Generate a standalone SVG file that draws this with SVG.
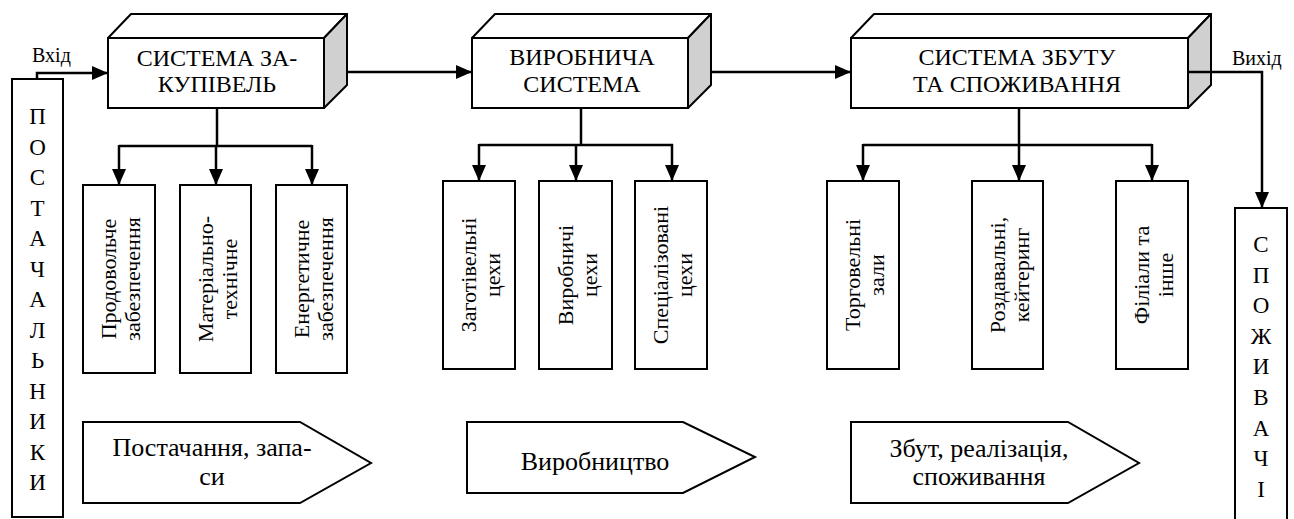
<svg xmlns="http://www.w3.org/2000/svg" width="1294" height="519" viewBox="0 0 1294 519">
<style>
text{font-family:'Liberation Serif','Times New Roman',serif;fill:#000}
.front{fill:#fff;stroke:#000;stroke-width:2}
.top{fill:#fff;stroke:#000;stroke-width:2;stroke-linejoin:round}
.side{fill:#d0d0d0;stroke:#000;stroke-width:2;stroke-linejoin:round}
.box{fill:#fff;stroke:#000;stroke-width:2}
.title{font-size:24px;text-anchor:middle}
.vt{font-size:22px;text-anchor:middle}
.letters{font-size:23px;text-anchor:middle}
.pent{font-size:26px;text-anchor:middle}
.lbl{font-size:20px}
.con{fill:none;stroke:#000;stroke-width:2.5}
</style>
<defs>
<marker id="arr" markerUnits="userSpaceOnUse" markerWidth="16" markerHeight="14" refX="16" refY="7" orient="auto">
<path d="M0,0 L16,7 L0,14 z" fill="#000"/>
</marker>
</defs>

<g id="suppliers">
<rect class="box" x="12" y="79" width="51" height="438"/>
<text class="letters"><tspan x="37.5" y="124">П</tspan><tspan x="37.5" y="154.5">О</tspan><tspan x="37.5" y="185">С</tspan><tspan x="37.5" y="215.5">Т</tspan><tspan x="37.5" y="246">А</tspan><tspan x="37.5" y="276.5">Ч</tspan><tspan x="37.5" y="307">А</tspan><tspan x="37.5" y="337.5">Л</tspan><tspan x="37.5" y="368">Ь</tspan><tspan x="37.5" y="398.5">Н</tspan><tspan x="37.5" y="429">И</tspan><tspan x="37.5" y="459.5">К</tspan><tspan x="37.5" y="490">И</tspan></text>
</g>

<g id="consumers">
<rect class="box" x="1235" y="208" width="52" height="330"/>
<text class="letters"><tspan x="1261" y="252">С</tspan><tspan x="1261" y="282.6">П</tspan><tspan x="1261" y="313.2">О</tspan><tspan x="1261" y="343.8">Ж</tspan><tspan x="1261" y="374.4">И</tspan><tspan x="1261" y="405">В</tspan><tspan x="1261" y="435.6">А</tspan><tspan x="1261" y="466.2">Ч</tspan><tspan x="1261" y="496.8">І</tspan></text>
</g>

<g id="sys-purchase">
<polygon class="top" points="108,38 131,14 347,14 324,38"/>
<polygon class="side" points="324,38 347,14 347,85 324,108"/>
<rect class="front" x="108" y="38" width="216" height="70"/>
<text class="title"><tspan x="217" y="66">СИСТЕМА ЗА-</tspan><tspan x="217" y="92">КУПІВЕЛЬ</tspan></text>
</g>

<g id="sys-production">
<polygon class="top" points="472,38 495,14 711,14 688,38"/>
<polygon class="side" points="688,38 711,14 711,85 688,108"/>
<rect class="front" x="472" y="38" width="216" height="70"/>
<text class="title"><tspan x="582" y="65">ВИРОБНИЧА</tspan><tspan x="582" y="92">СИСТЕМА</tspan></text>
</g>

<g id="sys-sales">
<polygon class="top" points="851,38 874,14 1211,14 1188,38"/>
<polygon class="side" points="1188,38 1211,14 1211,85 1188,108"/>
<rect class="front" x="851" y="38" width="337" height="70"/>
<text class="title"><tspan x="1017" y="65">СИСТЕМА ЗБУТУ</tspan><tspan x="1017" y="92">ТА СПОЖИВАННЯ</tspan></text>
</g>

<g id="food-supply">
<rect class="box" x="83" y="185" width="72" height="188"/>
<text class="vt" transform="translate(119,279) rotate(-90)"><tspan x="0" y="-3">Продовольче</tspan><tspan x="0" y="21">забезпечення</tspan></text>
</g>
<g id="material-supply">
<rect class="box" x="180" y="185" width="71" height="188"/>
<text class="vt" transform="translate(215.5,279) rotate(-90)"><tspan x="0" y="-3">Матеріально-</tspan><tspan x="0" y="21">технічне</tspan></text>
</g>
<g id="energy-supply">
<rect class="box" x="276" y="185" width="71" height="188"/>
<text class="vt" transform="translate(311.5,279) rotate(-90)"><tspan x="0" y="-3">Енергетичне</tspan><tspan x="0" y="21">забезпечення</tspan></text>
</g>

<g id="prep-shops">
<rect class="box" x="443" y="181" width="72" height="188"/>
<text class="vt" transform="translate(479,275) rotate(-90)"><tspan x="0" y="-3">Заготівельні</tspan><tspan x="0" y="21">цехи</tspan></text>
</g>
<g id="prod-shops">
<rect class="box" x="539" y="181" width="73" height="188"/>
<text class="vt" transform="translate(575.5,275) rotate(-90)"><tspan x="0" y="-3">Виробничі</tspan><tspan x="0" y="21">цехи</tspan></text>
</g>
<g id="spec-shops">
<rect class="box" x="635" y="181" width="72" height="188"/>
<text class="vt" transform="translate(671,275) rotate(-90)"><tspan x="0" y="-3">Спеціалізовані</tspan><tspan x="0" y="21">цехи</tspan></text>
</g>

<g id="trade-halls">
<rect class="box" x="827" y="181" width="72" height="188"/>
<text class="vt" transform="translate(863,275) rotate(-90)"><tspan x="0" y="-3">Торговельні</tspan><tspan x="0" y="21">зали</tspan></text>
</g>
<g id="distribution">
<rect class="box" x="972" y="181" width="71" height="188"/>
<text class="vt" transform="translate(1007.5,275) rotate(-90)"><tspan x="0" y="-3">Роздавальні,</tspan><tspan x="0" y="21">кейтеринг</tspan></text>
</g>
<g id="branches">
<rect class="box" x="1116" y="181" width="72" height="188"/>
<text class="vt" transform="translate(1152,275) rotate(-90)"><tspan x="0" y="-3">Філіали та</tspan><tspan x="0" y="21">інше</tspan></text>
</g>

<g id="stage-supply">
<polygon class="box" points="83,422 300,422 371,463 300,503 83,503"/>
<text class="pent"><tspan x="212" y="456">Постачання, запа-</tspan><tspan x="212" y="485">си</tspan></text>
</g>
<g id="stage-production">
<polygon class="box" points="467,422 683,422 755,457 683,493 467,493"/>
<text class="pent" x="595" y="470">Виробництво</text>
</g>
<g id="stage-sales">
<polygon class="box" points="851,422 1068,422 1139,463 1068,503 851,503"/>
<text class="pent"><tspan x="979" y="457">Збут, реалізація,</tspan><tspan x="979" y="485">споживання</tspan></text>
</g>

<g id="connectors">
<polyline class="con" points="37,79 37,73 108,73" marker-end="url(#arr)"/>
<text class="lbl" x="32" y="62">Вхід</text>
<line class="con" x1="347" y1="72" x2="472" y2="72" marker-end="url(#arr)"/>
<line class="con" x1="711" y1="72" x2="851" y2="72" marker-end="url(#arr)"/>
<polyline class="con" points="1188,72 1262,72 1262,208" marker-end="url(#arr)"/>
<text class="lbl" x="1232" y="65">Вихід</text>

<line class="con" x1="217" y1="108" x2="217" y2="146"/>
<line class="con" x1="119" y1="146" x2="312" y2="146"/>
<line class="con" x1="119" y1="145" x2="119" y2="185" marker-end="url(#arr)"/>
<line class="con" x1="216" y1="145" x2="216" y2="185" marker-end="url(#arr)"/>
<line class="con" x1="312" y1="145" x2="312" y2="185" marker-end="url(#arr)"/>

<line class="con" x1="581" y1="108" x2="581" y2="145"/>
<line class="con" x1="479" y1="145" x2="673" y2="145"/>
<line class="con" x1="479" y1="144" x2="479" y2="181" marker-end="url(#arr)"/>
<line class="con" x1="576" y1="144" x2="576" y2="181" marker-end="url(#arr)"/>
<line class="con" x1="672" y1="144" x2="672" y2="181" marker-end="url(#arr)"/>

<line class="con" x1="1019" y1="108" x2="1019" y2="145"/>
<line class="con" x1="863" y1="145" x2="1152" y2="145"/>
<line class="con" x1="863" y1="144" x2="863" y2="181" marker-end="url(#arr)"/>
<line class="con" x1="1019" y1="144" x2="1019" y2="181" marker-end="url(#arr)"/>
<line class="con" x1="1152" y1="144" x2="1152" y2="181" marker-end="url(#arr)"/>
</g>
</svg>
